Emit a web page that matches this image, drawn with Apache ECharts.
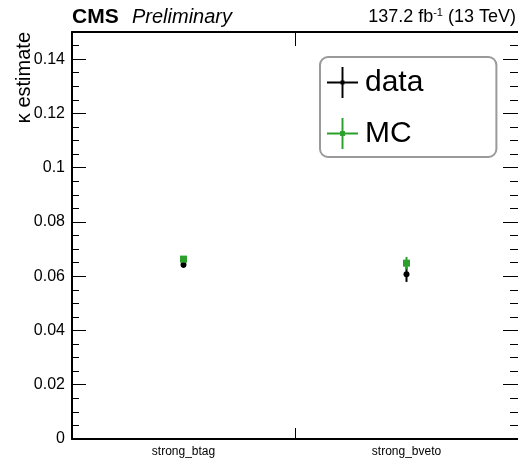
<!DOCTYPE html>
<html>
<head>
<meta charset="utf-8">
<script src="https://cdn.jsdelivr.net/npm/echarts@6/dist/echarts.min.js"></script>
<style>
html,body{margin:0;padding:0;background:#fff;}
#chart{width:518px;height:461px;}
</style>
</head>
<body>
<div id="chart"></div>
<script>
// ---- data ----
var categories = ['strong_btag', 'strong_bveto'];
var dataValues = [0.0642, 0.0607];
var dataErrors = [0.0011, 0.0028];
var mcValues = [0.0663, 0.0648];
var mcErrors = [0.0011, 0.0023];
var yTicks = [0, 0.02, 0.04, 0.06, 0.08, 0.1, 0.12, 0.14];

var FONT = 'Liberation Sans, Arial, sans-serif';
var BLACK = '#000000';
var GREEN = '#2ca02c';

function buildRows(vals, errs) {
  return vals.map(function (v, i) { return [i, v, errs[i]]; });
}

function makeRender(color, shape) {
  return function (params, api) {
    var idx = api.value(0), v = api.value(1), e = api.value(2);
    var c = api.coord([idx, v]);
    var hi = api.coord([idx, v + e]);
    var lo = api.coord([idx, v - e]);
    var children = [{
      type: 'line',
      shape: { x1: c[0], y1: hi[1], x2: c[0], y2: lo[1] },
      style: { stroke: color, lineWidth: 2 }
    }];
    if (shape === 'circle') {
      children.push({ type: 'circle', shape: { cx: c[0], cy: c[1], r: 3 }, style: { fill: color } });
    } else {
      children.push({ type: 'rect', shape: { x: c[0] - 3.5, y: c[1] - 3.5, width: 7, height: 7 }, style: { fill: color } });
    }
    return { type: 'group', children: children };
  };
}

var crossDot = 'path://M0,15L32,15L32,17L0,17Z M15,0L17,0L17,32L15,32Z M14,14L18,14L18,18L14,18Z';
var crossSq = 'path://M0,15L32,15L32,17L0,17Z M15,0L17,0L17,32L15,32Z M13.5,13.5L18.5,13.5L18.5,18.5L13.5,18.5Z';

function yAxisDef(pos, interval, tickLen, labels, showLine) {
  return {
    type: 'value', position: pos, min: 0, max: 0.15, interval: interval,
    axisLine: { show: showLine, onZero: false, lineStyle: { color: BLACK, width: 2 } },
    axisTick: { show: true, inside: true, length: tickLen, lineStyle: { color: BLACK, width: 1 } },
    axisLabel: labels ? {
      show: true, color: BLACK, fontFamily: FONT, fontSize: 16, margin: 7,
      formatter: function (v) { return yTicks.some(function (t) { return Math.abs(t - v) < 1e-9; }) ? String(+v.toFixed(3)) : ''; }
    } : { show: false },
    splitLine: { show: false },
    minorTick: { show: false },
    minorSplitLine: { show: false }
  };
}

var option = {
  animation: false,
  backgroundColor: '#ffffff',
  grid: { left: 72, right: 0, top: 32, bottom: 22, containLabel: false },
  xAxis: [{
    type: 'category', data: categories, position: 'bottom', boundaryGap: true,
    axisLine: { show: true, onZero: false, lineStyle: { color: BLACK, width: 2 } },
    axisTick: { show: true, inside: true, length: 11, interval: 0, alignWithLabel: false, lineStyle: { color: BLACK, width: 1 } },
    axisLabel: { show: true, color: BLACK, fontFamily: FONT, fontSize: 12, margin: 7, interval: 0 },
    splitLine: { show: false }
  }, {
    type: 'category', data: categories, position: 'top', boundaryGap: true,
    axisLine: { show: true, onZero: false, lineStyle: { color: BLACK, width: 2 } },
    axisTick: { show: true, inside: true, length: 14, interval: 0, lineStyle: { color: BLACK, width: 1 } },
    axisLabel: { show: false },
    splitLine: { show: false }
  }],
  yAxis: [
    yAxisDef('left', 0.02, 14, true, true),
    yAxisDef('left', 0.005, 7, false, false),
    yAxisDef('right', 0.02, 15, false, false),
    yAxisDef('right', 0.005, 8, false, false)
  ],
  legend: {
    orient: 'vertical', left: 320, top: 57,
    padding: [10, 73, 8, 7],
    itemGap: 20, itemWidth: 31, itemHeight: 31,
    borderColor: '#9a9a9a', borderWidth: 2, borderRadius: 8, backgroundColor: '#ffffff',
    textStyle: { color: BLACK, fontFamily: FONT, fontSize: 30, padding: [0, 0, 0, 2] },
    data: [{ name: 'data', icon: crossDot }, { name: 'MC', icon: crossSq }]
  },
  graphic: [
    { type: 'text', x: 72, y: 17, style: { text: 'CMS', font: 'bold 21px ' + FONT, fill: BLACK, verticalAlign: 'middle' } },
    { type: 'text', x: 132, y: 17, style: { text: 'Preliminary', font: 'italic 20px ' + FONT, fill: BLACK, verticalAlign: 'middle' } },
    { type: 'text', right: 2, top: 7, style: {
        text: '137.2 fb{sup|-1} (13 TeV)', font: '18px ' + FONT, fill: BLACK,
        rich: { sup: { fontSize: 11, fontFamily: FONT, verticalAlign: 'top', padding: [0, 0, 9, 0] } }
      } },
    { type: 'text', x: 34, y: 32, rotation: Math.PI / 2, style: { text: 'κ estimate', font: '20px ' + FONT, fill: BLACK, align: 'right', verticalAlign: 'bottom' } }
  ],
  series: [{
    name: 'data', type: 'custom', xAxisIndex: 0, yAxisIndex: 0,
    itemStyle: { color: BLACK },
    encode: { x: 0, y: 1 },
    renderItem: makeRender(BLACK, 'circle'),
    data: buildRows(dataValues, dataErrors), z: 3
  }, {
    name: 'MC', type: 'custom', xAxisIndex: 0, yAxisIndex: 0,
    itemStyle: { color: GREEN },
    encode: { x: 0, y: 1 },
    renderItem: makeRender(GREEN, 'rect'),
    data: buildRows(mcValues, mcErrors), z: 4
  }]
};

var chart = echarts.init(document.getElementById('chart'), null, { renderer: 'canvas' });
chart.setOption(option);
</script>
</body>
</html>
